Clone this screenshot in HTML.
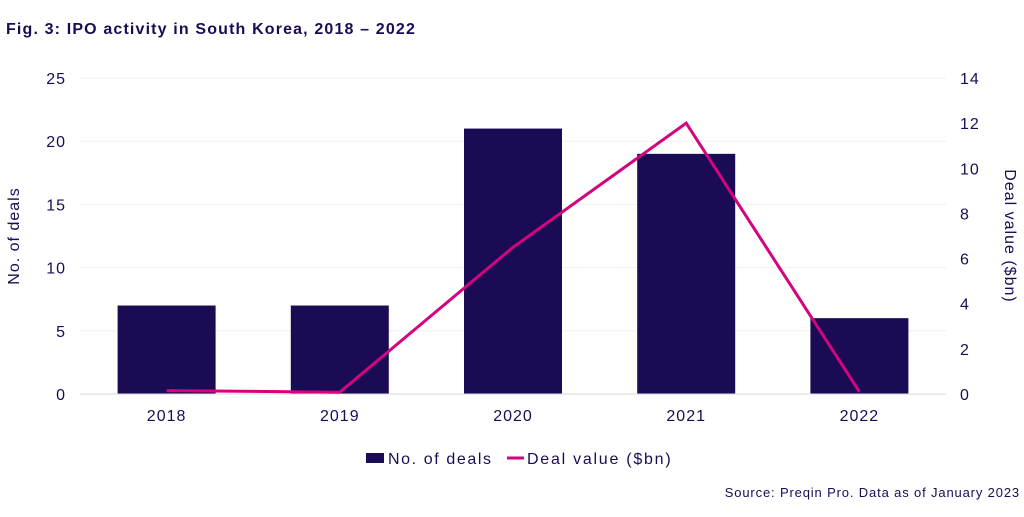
<!DOCTYPE html>
<html><head><meta charset="utf-8"><style>
body{margin:0;background:#fff;width:1024px;height:512px;overflow:hidden;font-family:"Liberation Sans",sans-serif}
</style></head><body>
<svg id="c" width="1024" height="512" xmlns="http://www.w3.org/2000/svg">
<text x="6" y="34" font-size="16" font-weight="bold" fill="#1b0b54" letter-spacing="1.15">Fig. 3: IPO activity in South Korea, 2018 – 2022</text>
<g id="g"></g>
<text transform="translate(19,236) rotate(-90)" text-anchor="middle" font-size="16" fill="#1b0b54" letter-spacing="1">No. of deals</text>
<text transform="translate(1005,236) rotate(90)" text-anchor="middle" font-size="16" fill="#1b0b54" letter-spacing="1">Deal value ($bn)</text>
<g>
<rect x="366" y="453" width="18" height="10" fill="#1b0b54"/>
<text x="388" y="464" font-size="16" fill="#1b0b54" letter-spacing="1.6">No. of deals</text>
<line x1="507" y1="458" x2="524" y2="458" stroke="#d4037f" stroke-width="3"/>
<text x="527" y="464" font-size="16" fill="#1b0b54" letter-spacing="1.75">Deal value ($bn)</text>
</g>
<text x="1020" y="497" text-anchor="end" font-size="13" fill="#1b0b54" letter-spacing="0.85">Source: Preqin Pro. Data as of January 2023</text>
</svg>
<script>
const categories=["2018","2019","2020","2021","2022"];
const deals=[7,7,21,19,6];
const values=[0.15,0.08,6.5,12,0.1];
const leftTicks=[0,5,10,15,20,25];
const rightTicks=[0,2,4,6,8,10,12,14];
const NS="http://www.w3.org/2000/svg";
const g=document.getElementById('g');
const x0=80,x1=946,y0=394,y1=78;
const yL=v=>y0-(v/25)*(y0-y1);
const yR=v=>y0-(v/14)*(y0-y1);
const bw=(x1-x0)/categories.length;
const xc=i=>x0+bw*(i+0.5);
function mk(t,a){const e=document.createElementNS(NS,t);for(const k in a)e.setAttribute(k,a[k]);g.appendChild(e);return e;}
leftTicks.forEach(v=>{
 if(v>0){const l=mk('line',{x1:x0,x2:x1,y1:yL(v),y2:yL(v),stroke:'#f0f0f0','stroke-width':1});
 
 }
 const t=mk('text',{x:66,y:yL(v)+6,'text-anchor':'end','font-size':16,fill:'#1b0b54','letter-spacing':1});t.textContent=v;
 
 
});
rightTicks.forEach(v=>{
 const t=mk('text',{x:960,y:yR(v)+6,'font-size':16,fill:'#1b0b54','letter-spacing':1});t.textContent=v;
 
 
});
deals.forEach((d,i)=>{
 const r=mk('rect',{x:xc(i)-49,y:yL(d),width:98,height:y0-yL(d),fill:'#1b0b54'});
 
 
 const t=mk('text',{x:xc(i),y:421,'text-anchor':'middle','font-size':16,fill:'#1b0b54','letter-spacing':1});t.textContent=categories[i];
 
 
});
const ax=mk('line',{x1:x0,x2:x1,y1:y0,y2:y0,stroke:'#d9d9d9','stroke-width':1});


const pl=mk('polyline',{points:values.map((v,i)=>xc(i)+','+yR(v)).join(' '),fill:'none',stroke:'#d4037f','stroke-width':3,'stroke-linejoin':'miter'});


</script>
</body></html>
